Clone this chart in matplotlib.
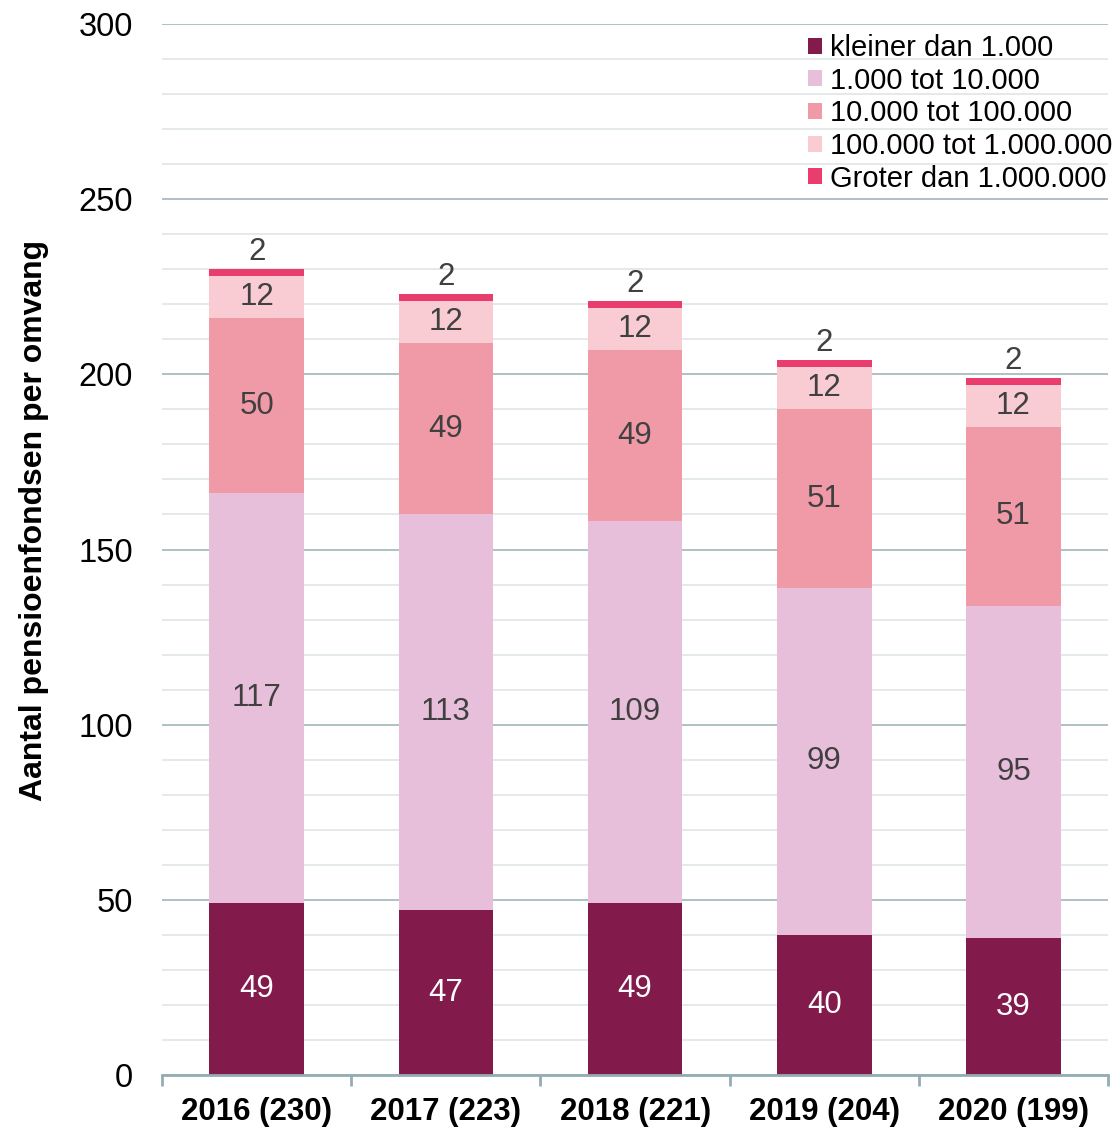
import numpy as np
import matplotlib.pyplot as plt
from matplotlib.ticker import MultipleLocator, FixedLocator
from matplotlib.patches import Patch

plt.rcParams['font.family'] = ['Liberation Sans', 'DejaVu Sans']

categories = ['2016 (230)', '2017 (223)', '2018 (221)', '2019 (204)', '2020 (199)']
series_names = ['kleiner dan 1.000', '1.000 tot 10.000', '10.000 tot 100.000',
                '100.000 tot 1.000.000', 'Groter dan 1.000.000']
kleiner = [49, 47, 49, 40, 39]
tot_10k = [117, 113, 109, 99, 95]
tot_100k = [50, 49, 49, 51, 51]
tot_1m = [12, 12, 12, 12, 12]
groter = [2, 2, 2, 2, 2]

colors = ['#821b4c', '#e8bfda', '#f099a7', '#f9ccd4', '#e93d6e']
label_colors = ['white', '#404040', '#404040', '#404040', '#404040']

fig = plt.figure(figsize=(11.13, 11.28), dpi=100)
ax = fig.add_axes([0.1456, 0.047, 0.85, 0.9317])

x = np.arange(len(categories))
bottom = np.zeros(len(categories))
for k, vals in enumerate([kleiner, tot_10k, tot_100k, tot_1m, groter]):
    vals = np.array(vals)
    ax.bar(x, vals, 0.5, bottom=bottom, color=colors[k], zorder=3)
    for i in range(len(x)):
        if k == 4:
            ypos = bottom[i] + vals[i] + 0.6
            va = 'bottom'
        else:
            ypos = bottom[i] + vals[i] / 2
            va = 'center'
        ax.text(x[i], ypos, str(vals[i]), ha='center', va=va, fontsize=22.5,
                color=label_colors[k], zorder=4)
    bottom += vals

ax.set_xlim(-0.5, len(categories) - 0.5)
ax.set_ylim(0, 300)
ax.yaxis.set_major_locator(MultipleLocator(50))
ax.yaxis.set_minor_locator(MultipleLocator(10))
ax.grid(axis='y', which='major', color='#a9bcc2', linewidth=1.3, zorder=0)
ax.grid(axis='y', which='minor', color='#e2e8eb', linewidth=1.3, zorder=0)
ax.tick_params(axis='y', which='both', length=0, labelsize=23.5, pad=21)

ax.set_xticks(x)
ax.set_xticklabels(categories, fontsize=22.5, fontweight='bold')
ax.xaxis.set_minor_locator(FixedLocator(np.arange(len(categories) + 1) - 0.5))
ax.tick_params(axis='x', which='major', length=0, pad=16)
ax.tick_params(axis='x', which='minor', length=8, width=2, color='#94adb4')

for s in ['top', 'right', 'left']:
    ax.spines[s].set_visible(False)
ax.spines['bottom'].set_color('#94adb4')
ax.spines['bottom'].set_linewidth(2)
ax.spines['bottom'].set_zorder(5)

ax.set_ylabel('Aantal pensioenfondsen per omvang', fontsize=23, fontweight='bold')
ax.yaxis.set_label_coords(-0.12, 0.528)

handles = [Patch(facecolor=c) for c in colors]
ax.legend(handles, series_names, loc='upper right', bbox_to_anchor=(1.0263, 1.01),
          fontsize=21, frameon=False, handlelength=0.47, handleheight=0.47,
          handletextpad=0.28, labelspacing=0.16, borderpad=0.2)

fig.savefig('out.png', dpi=100)
